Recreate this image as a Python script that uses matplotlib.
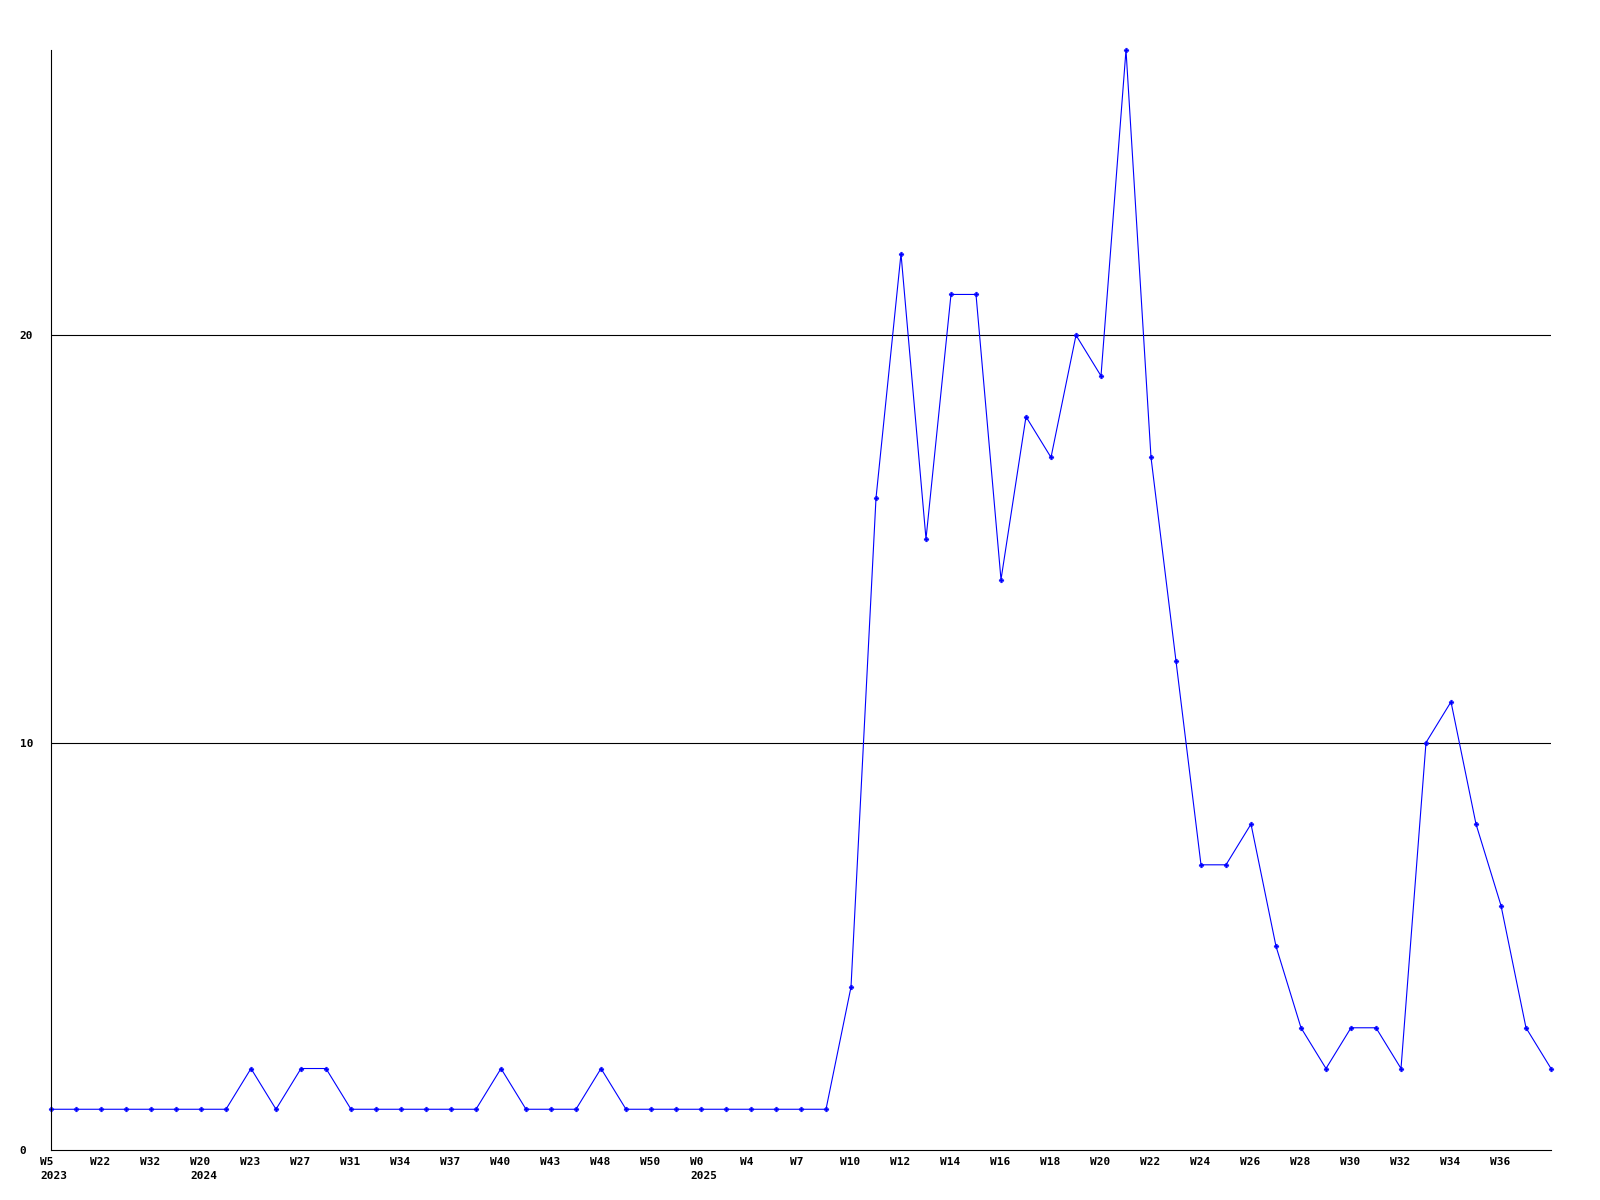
import matplotlib
matplotlib.use("Agg")
import matplotlib.pyplot as plt
import matplotlib.transforms as mtransforms

# weekly counts, one per week point
counts = [1, 1, 1, 1, 1, 1, 1, 1, 2, 1,
          2, 2, 1, 1, 1, 1, 1, 1, 2, 1,
          1, 1, 2, 1, 1, 1, 1, 1, 1, 1,
          1, 1, 4, 16, 22, 15, 21, 21, 14, 18,
          17, 20, 19, 27, 17, 12, 7, 7, 8, 5,
          3, 2, 3, 3, 2, 10, 11, 8, 6, 3,
          2]

# labels shown on every second point
tick_labels = ["W5\n2023", "W22", "W32", "W20\n2024", "W23", "W27", "W31", "W34",
               "W37", "W40", "W43", "W48", "W50", "W0\n2025", "W4", "W7", "W10",
               "W12", "W14", "W16", "W18", "W20", "W22", "W24", "W26", "W28",
               "W30", "W32", "W34", "W36"]
y_ticks = [0, 10, 20]

fig = plt.figure(figsize=(16, 12), dpi=100)
ax = fig.add_axes([51 / 1600, 50 / 1200, 1500 / 1600, 1100 / 1200])

x = list(range(len(counts)))
ax.plot(x, counts, color="#0000ff", linewidth=0.8, marker="P", markersize=3.4,
        markeredgewidth=0.3, clip_on=False)

ax.set_xlim(0, len(counts) - 1)
ax.set_ylim(0, 27)

for v in y_ticks[1:]:
    ax.axhline(v, color="black", linewidth=0.8, zorder=0)

for s in ["top", "right"]:
    ax.spines[s].set_visible(False)
for s in ["left", "bottom"]:
    ax.spines[s].set_linewidth(0.8)

font = dict(family="DejaVu Sans Mono", weight="bold", size=8)

ax.set_xticks(x[::2][:len(tick_labels)])
ax.set_xticklabels(tick_labels, ha="left", linespacing=1.45, **font)
ax.tick_params(axis="x", length=0, pad=5)
shift = mtransforms.ScaledTranslation(-11 / 100, 0, fig.dpi_scale_trans)
for lbl in ax.get_xticklabels():
    lbl.set_transform(lbl.get_transform() + shift)

ax.set_yticks(y_ticks)
ax.set_yticklabels([str(v) for v in y_ticks], ha="left", **font)
ax.tick_params(axis="y", length=0, pad=22.5)

fig.savefig("out.png", dpi=100, facecolor="white")
